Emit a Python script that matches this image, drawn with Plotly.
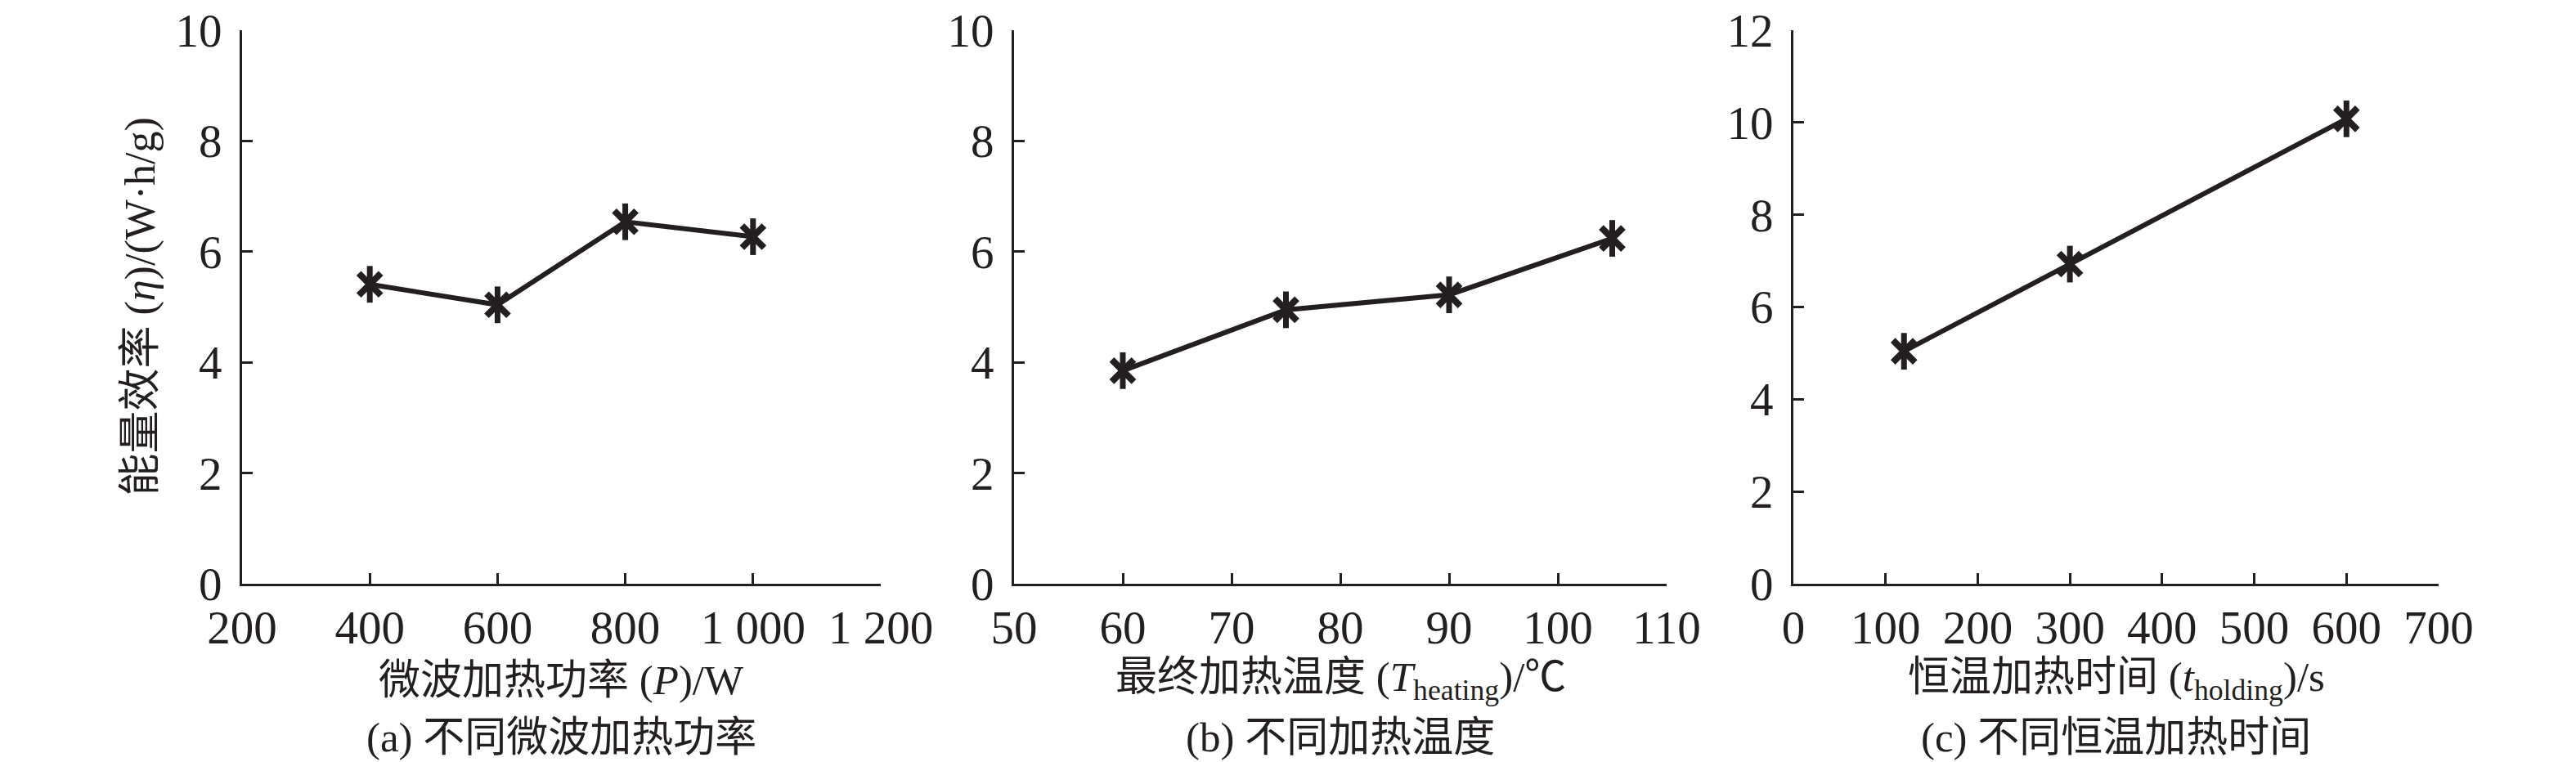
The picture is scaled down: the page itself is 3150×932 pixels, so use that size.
import plotly.graph_objects as go

# panel (a): microwave power
power_w = [400, 600, 800, 1000]
eff_power = [5.41, 5.04, 6.54, 6.27]
# panel (b): final heating temperature
temp_c = [60, 75, 90, 105]
eff_temp = [3.85, 4.95, 5.22, 6.24]
# panel (c): holding time
hold_s = [120, 300, 600]
eff_hold = [5.04, 6.93, 10.08]

xticks_a = [200, 400, 600, 800, 1000, 1200]
xlabels_a = ["200", "400", "600", "800", "1 000", "1 200"]
xticks_b = [50, 60, 70, 80, 90, 100, 110]
xticks_c = [0, 100, 200, 300, 400, 500, 600, 700]
yticks_ab = [0, 2, 4, 6, 8, 10]
yticks_c = [0, 2, 4, 6, 8, 10, 12]

xtitles = ["微波加热功率 (<i>P</i>)/W",
           "最终加热温度 (<i>T</i><sub>heating</sub>)/℃",
           "恒温加热时间 (<i>t</i><sub>holding</sub>)/s"]
captions = ["(a) 不同微波加热功率", "(b) 不同加热温度", "(c) 不同恒温加热时间"]
ytitle = "能量效率 (<i>η</i>)/(W·h/g)"

W, H = 3150, 932
INK = "#231f20"
FONT = "Liberation Serif, Noto Sans CJK SC, serif"

xdoms = [(288 / W, 1069 / W), (1232 / W, 2030 / W), (2185 / W, 2974 / W)]
ydom = (1 - 706 / H, 1 - 29 / H)

fig = go.Figure()

series = [(power_w, eff_power), (temp_c, eff_temp), (hold_s, eff_hold)]
for i, (xs, ys) in enumerate(series):
    ax = "" if i == 0 else str(i + 1)
    fig.add_trace(go.Scatter(x=xs, y=ys, mode="lines+markers", xaxis="x" + ax, yaxis="y" + ax,
                             line=dict(color=INK, width=6),
                             marker=dict(symbol="x-thin", size=27, color=INK,
                                         line=dict(color=INK, width=8)),
                             showlegend=False, hoverinfo="skip"))
    # vertical bar through the cross gives the six-armed marker
    fig.add_trace(go.Scatter(x=xs, y=ys, mode="markers", xaxis="x" + ax, yaxis="y" + ax,
                             marker=dict(symbol="line-ns", size=32, color=INK,
                                         line=dict(color=INK, width=7)),
                             showlegend=False, hoverinfo="skip"))

common = dict(showline=True, linecolor=INK, linewidth=3, ticks="inside", ticklen=13,
              tickwidth=3, tickcolor=INK, showgrid=False, zeroline=False, automargin=False,
              ticklabeloverflow="allow", tickfont=dict(family=FONT, size=57, color=INK))

xranges = [[200, 1200], [50, 110], [0, 700]]
xtickvals = [xticks_a, xticks_b, xticks_c]
xticktexts = [xlabels_a, [str(v) for v in xticks_b], [str(v) for v in xticks_c]]
yranges = [[0, 10], [0, 10], [0, 12]]
ytickvals = [yticks_ab, yticks_ab, yticks_c]

for i in range(3):
    ax = "" if i == 0 else str(i + 1)
    fig.update_layout(**{
        "xaxis" + ax: dict(domain=list(xdoms[i]), range=xranges[i], tickvals=xtickvals[i],
                           ticktext=xticktexts[i], anchor="y" + ax, ticklabelstandoff=2, **common),
        "yaxis" + ax: dict(domain=list(ydom), range=yranges[i], tickvals=ytickvals[i],
                           anchor="x" + ax, ticklabelstandoff=10, **common),
    })

annotations = []
for i in range(3):
    xc = (xdoms[i][0] + xdoms[i][1]) / 2
    annotations.append(dict(text=xtitles[i], x=xc, y=1 - 824 / H, xref="paper", yref="paper",
                            xanchor="center", yanchor="middle", showarrow=False,
                            font=dict(family=FONT, size=51, color=INK)))
    annotations.append(dict(text=captions[i], x=xc, y=1 - 894 / H, xref="paper", yref="paper",
                            xanchor="center", yanchor="middle", showarrow=False,
                            font=dict(family=FONT, size=51, color=INK)))
annotations.append(dict(text=ytitle, x=163 / W, y=(ydom[0] + ydom[1]) / 2, xref="paper", yref="paper",
                        xanchor="center", yanchor="middle", textangle=-90, showarrow=False,
                        font=dict(family=FONT, size=52, color=INK)))

fig.update_layout(template="none", width=W, height=H, margin=dict(l=0, r=0, t=0, b=0, pad=0),
                  paper_bgcolor="white", plot_bgcolor="white", annotations=annotations)

fig.write_html("out.html")
